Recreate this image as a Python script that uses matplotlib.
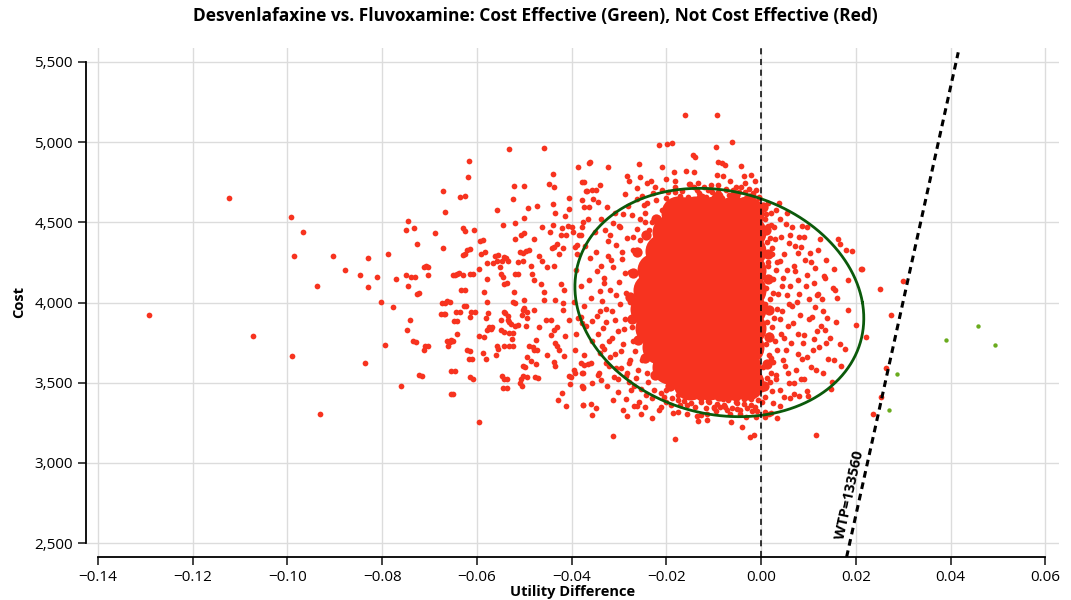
import matplotlib
matplotlib.use("Agg")
import matplotlib.pyplot as plt
import numpy as np
from matplotlib.ticker import FuncFormatter

plt.rcParams['font.family'] = ['Open Sans', 'DejaVu Sans']

# --- data (utility difference, cost) ---
far_left = [
    (-0.1292, 3922), (-0.1123, 4650), (-0.1072, 3791), (-0.0992, 4531), (-0.0990, 3668),
    (-0.0986, 4288), (-0.0967, 4442), (-0.0937, 4103), (-0.0930, 3303), (-0.0904, 4292),
    (-0.0879, 4203), (-0.0846, 4171), (-0.0837, 3625), (-0.0830, 4095), (-0.0829, 4279),
    (-0.0811, 4159), (-0.0803, 4005), (-0.0793, 3733), (-0.0787, 4302), (-0.0776, 3970),
    (-0.0770, 4148), (-0.0759, 3477), (-0.0749, 4170), (-0.0749, 4454), (-0.0748, 3830),
    (-0.0745, 4103), (-0.0745, 4510), (-0.0741, 3889), (-0.0738, 4158), (-0.0735, 3757),
    (-0.0732, 4463), (-0.0731, 4161), (-0.0729, 3752), (-0.0727, 4365), (-0.0726, 4056),
    (-0.0722, 3545), (-0.0721, 4057), (-0.0716, 3544), (-0.0711, 3706), (-0.0711, 4220),
    (-0.0709, 3726), (-0.0708, 4230), (-0.0704, 4171), (-0.0703, 3727), (-0.0702, 4223),
    (-0.0689, 4432),
]

mid_left = [
    (-0.0676, 3928), (-0.0674, 3998), (-0.0672, 4340), (-0.0671, 4697), (-0.0669, 3928),
    (-0.0668, 3926), (-0.0667, 4564), (-0.0667, 3995), (-0.0663, 3757), (-0.0663, 4008),
    (-0.0660, 3726), (-0.0657, 4005), (-0.0657, 3756), (-0.0655, 3574), (-0.0655, 3430),
    (-0.0655, 3767), (-0.0651, 3762), (-0.0651, 3427), (-0.0651, 4169), (-0.0649, 3887),
    (-0.0647, 4171), (-0.0647, 3575), (-0.0644, 3942), (-0.0642, 3885), (-0.0642, 3802),
    (-0.0641, 4179), (-0.0638, 4186), (-0.0636, 3943), (-0.0635, 4656), (-0.0634, 4076),
    (-0.0630, 4298), (-0.0630, 4171), (-0.0629, 4467), (-0.0628, 3977), (-0.0624, 4664),
    (-0.0624, 4446), (-0.0624, 4304), (-0.0624, 4080), (-0.0622, 3978), (-0.0621, 4327),
    (-0.0621, 3706), (-0.0619, 4783), (-0.0617, 4883), (-0.0616, 3648), (-0.0615, 4336),
    (-0.0614, 3908), (-0.0614, 3699), (-0.0614, 4179), (-0.0614, 3535), (-0.0613, 3942),
    (-0.0610, 3646), (-0.0608, 4176), (-0.0607, 3525), (-0.0605, 4452), (-0.0603, 3939),
    (-0.0596, 3256), (-0.0595, 4207), (-0.0595, 3788), (-0.0593, 4381), (-0.0591, 4302),
    (-0.0586, 4388), (-0.0586, 3685), (-0.0585, 3787), (-0.0585, 4066), (-0.0583, 4313),
    (-0.0581, 3650), (-0.0580, 3901), (-0.0579, 4145), (-0.0579, 4004), (-0.0578, 4245),
    (-0.0578, 3829), (-0.0577, 3933), (-0.0574, 3850), (-0.0571, 3833), (-0.0567, 3849),
    (-0.0565, 4245), (-0.0562, 4292), (-0.0560, 3673), (-0.0558, 4575), (-0.0558, 4261),
    (-0.0558, 3729), (-0.0556, 4294), (-0.0556, 3712), (-0.0551, 4220), (-0.0549, 4179),
    (-0.0549, 3829), (-0.0548, 3891), (-0.0547, 3541), (-0.0546, 4261), (-0.0545, 3467),
    (-0.0544, 4483), (-0.0544, 4158), (-0.0542, 4282), (-0.0542, 4117), (-0.0542, 3942),
    (-0.0542, 3818), (-0.0542, 3726), (-0.0542, 3525), (-0.0540, 3933), (-0.0539, 4276),
    (-0.0537, 3465), (-0.0536, 4120), (-0.0536, 3523), (-0.0535, 4261), (-0.0535, 3891),
    (-0.0535, 3916), (-0.0532, 4959), (-0.0532, 3880), (-0.0532, 3809), (-0.0532, 3730),
    (-0.0528, 3868), (-0.0525, 3770), (-0.0524, 4644), (-0.0524, 3808), (-0.0523, 3729),
    (-0.0523, 4004), (-0.0522, 4729), (-0.0521, 4066), (-0.0520, 4396), (-0.0520, 3999),
    (-0.0520, 4179), (-0.0520, 3854), (-0.0519, 4496), (-0.0514, 4178), (-0.0514, 3858),
    (-0.0514, 4251), (-0.0509, 4313), (-0.0509, 3500), (-0.0507, 4419), (-0.0507, 3520),
    (-0.0504, 3920), (-0.0504, 3481), (-0.0503, 4311), (-0.0502, 4261), (-0.0502, 3953),
    (-0.0502, 3603), (-0.0502, 3541), (-0.0501, 4727), (-0.0501, 4529), (-0.0501, 3964),
    (-0.0500, 4435), (-0.0500, 4014), (-0.0499, 3600), (-0.0497, 4323), (-0.0497, 3854),
    (-0.0495, 3941), (-0.0495, 3658), (-0.0493, 3901), (-0.0493, 3533), (-0.0491, 4589),
    (-0.0490, 3726), (-0.0489, 4327), (-0.0486, 4230), (-0.0486, 3637), (-0.0483, 4179),
    (-0.0482, 3724), (-0.0480, 4398), (-0.0479, 4138), (-0.0479, 3953), (-0.0479, 3706),
    (-0.0478, 3536), (-0.0476, 3767), (-0.0475, 3616), (-0.0473, 4602), (-0.0473, 3704),
    (-0.0471, 3529), (-0.0469, 4292), (-0.0469, 3846), (-0.0465, 4117), (-0.0462, 4261),
    (-0.0462, 4471), (-0.0459, 4962), (-0.0458, 4066), (-0.0458, 4014), (-0.0453, 3891),
    (-0.0451, 4220), (-0.0451, 3675), (-0.0448, 4737), (-0.0445, 4442), (-0.0444, 3891),
    (-0.0444, 3798), (-0.0441, 4342), (-0.0440, 4800), (-0.0440, 4483), (-0.0439, 4612),
    (-0.0438, 4719), (-0.0437, 4344), (-0.0437, 4230), (-0.0437, 3829), (-0.0437, 3628),
    (-0.0435, 4560), (-0.0434, 4014), (-0.0434, 3747), (-0.0434, 3607), (-0.0431, 4365),
    (-0.0430, 3850), (-0.0430, 3726), (-0.0429, 3395), (-0.0427, 4302), (-0.0427, 3706),
    (-0.0423, 4421), (-0.0423, 4117), (-0.0420, 4463), (-0.0420, 3438), (-0.0419, 4342),
    (-0.0419, 3953), (-0.0417, 3994), (-0.0416, 4076), (-0.0416, 3665), (-0.0414, 4541),
    (-0.0413, 3792), (-0.0412, 4421), (-0.0411, 3352), (-0.0408, 4477), (-0.0405, 4650),
    (-0.0405, 4583), (-0.0405, 3891), (-0.0405, 3541), (-0.0403, 3491), (-0.0401, 3537),
    (-0.0400, 4473), (-0.0397, 4438), (-0.0395, 3582), (-0.0392, 3562), (-0.0392, 4344),
    (-0.0389, 4359), (-0.0387, 4847), (-0.0381, 3912), (-0.0381, 3623), (-0.0380, 4421),
    (-0.0378, 3870), (-0.0378, 3479), (-0.0377, 4469), (-0.0376, 3362), (-0.0375, 4502),
    (-0.0375, 3562), (-0.0375, 3469), (-0.0374, 4596), (-0.0374, 3675), (-0.0373, 4750),
    (-0.0369, 4697), (-0.0366, 4521), (-0.0361, 4878),
]

top_edge = [
    (-0.0160, 5170), (-0.0093, 5170), (-0.0215, 4983), (-0.0198, 4988), (-0.0187, 4996),
    (-0.0096, 4969), (-0.0061, 4998), (-0.0144, 4917), (-0.0140, 4905), (-0.0090, 4878),
    (-0.0082, 4867), (-0.0076, 4855), (-0.0363, 4871), (-0.0324, 4846), (-0.0257, 4861),
    (-0.0210, 4842), (-0.0183, 4815), (-0.0159, 4817), (-0.0142, 4815), (-0.0094, 4797),
    (-0.0080, 4788), (-0.0043, 4851), (-0.0036, 4788), (-0.0022, 4797), (-0.0013, 4759),
    (-0.0377, 4751), (-0.0341, 4734), (-0.0283, 4788), (-0.0279, 4755), (-0.0255, 4780),
    (-0.0241, 4743), (-0.0233, 4755), (-0.0200, 4768), (-0.0182, 4757), (-0.0367, 4697),
    (-0.0356, 4701), (-0.0349, 4701), (-0.0354, 4643), (-0.0345, 4627), (-0.0379, 4639),
    (-0.0288, 4676), (-0.0262, 4712), (-0.0224, 4722), (-0.0153, 4739), (-0.0133, 4743),
    (-0.0105, 4735), (-0.0066, 4760), (-0.0033, 4743), (-0.0005, 4649), (-0.0325, 4593),
    (-0.0363, 4597),
]

bottom_edge = [
    (-0.0313, 3170), (-0.0182, 3147), (-0.0024, 3164), (-0.0014, 3176), (-0.0375, 3361),
    (-0.0360, 3367), (-0.0349, 3340), (-0.0356, 3299), (-0.0312, 3392), (-0.0292, 3330),
    (-0.0282, 3293), (-0.0268, 3357), (-0.0261, 3357), (-0.0253, 3305), (-0.0231, 3278),
    (-0.0212, 3351), (-0.0175, 3315), (-0.0157, 3361), (-0.0136, 3293), (-0.0134, 3263),
    (-0.0115, 3305), (-0.0114, 3268), (-0.0100, 3340), (-0.0064, 3257), (-0.0040, 3226),
    (-0.0032, 3288), (-0.0011, 3288), (0.0009, 3284), (0.0034, 3278), (-0.0375, 3471),
    (-0.0356, 3496), (-0.0338, 3517), (-0.0345, 3545), (-0.0311, 3533), (-0.0379, 3558),
    (-0.0374, 3610), (-0.0360, 3620), (-0.0274, 3454), (-0.0243, 3423), (-0.0211, 3434),
    (-0.0200, 3454), (-0.0189, 3402), (-0.0175, 3392), (-0.0154, 3444), (-0.0126, 3382),
    (-0.0100, 3351), (-0.0079, 3361), (-0.0050, 3371), (-0.0021, 3361), (0.0009, 3320),
    (0.0022, 3310), (0.0116, 3175),
]

right_side = [
    (0.0300, 4134), (0.0275, 3924), (0.0264, 3591), (0.0254, 3412), (0.0236, 3306),
    (0.0221, 3786), (0.0200, 3857), (0.0183, 3953), (0.0252, 4086), (0.0214, 4211),
    (0.0086, 4477), (0.0097, 4473), (0.0081, 4406), (0.0091, 4410), (0.0125, 4394),
    (0.0162, 4396), (0.0167, 4365), (0.0179, 4327), (0.0193, 4323), (0.0211, 4208),
    (0.0183, 4140), (0.0160, 4029), (0.0154, 4206), (0.0137, 4267), (0.0121, 4325),
    (0.0104, 4306), (0.0078, 4310), (0.0058, 4370), (0.0069, 4225), (0.0114, 4215),
    (0.0132, 4163), (0.0151, 4090), (0.0120, 4050), (0.0128, 4020), (0.0113, 3969),
    (0.0139, 3906), (0.0136, 3827), (0.0090, 3800), (0.0107, 3910), (0.0167, 3744),
    (0.0178, 3713), (0.0137, 3747), (0.0111, 3770), (0.0122, 3720), (0.0155, 3640),
    (0.0105, 3600), (0.0130, 3560), (0.0085, 3520), (0.0148, 3460), (0.0070, 3430),
    (0.0100, 3420),
]

# medium-density points inside the ellipse around the solid core
ring = [
    (-0.0385, 4418), (-0.0371, 4352), (-0.0362, 4277), (-0.0351, 4441), (-0.0346, 4198),
    (-0.0337, 4523), (-0.0331, 4119), (-0.0323, 4384), (-0.0317, 4262), (-0.0309, 4557),
    (-0.0306, 4048), (-0.0297, 4472), (-0.0293, 4318), (-0.0287, 4183), (-0.0281, 4604),
    (-0.0277, 4002), (-0.0271, 4409), (-0.0266, 3897), (-0.0381, 4103), (-0.0374, 3978),
    (-0.0369, 3852), (-0.0359, 4031), (-0.0356, 3762), (-0.0347, 3918), (-0.0341, 3683),
    (-0.0334, 3842), (-0.0328, 3961), (-0.0321, 3601), (-0.0314, 3779), (-0.0309, 3893),
    (-0.0302, 3522), (-0.0296, 3698), (-0.0289, 3832), (-0.0283, 3561), (-0.0277, 3642),
    (-0.0271, 3758), (-0.0391, 4203), (-0.0387, 3902), (-0.0393, 3702), (-0.0366, 3618),
    (-0.0343, 3562), (-0.0326, 3478), (-0.0301, 3441), (-0.0286, 3398), (-0.0268, 3482),
    (-0.0262, 4648), (-0.0251, 4661), (-0.0241, 4618), (-0.0229, 4683), (-0.0221, 4637),
    (-0.0209, 4702), (-0.0196, 4688), (-0.0181, 4719), (-0.0166, 4697), (-0.0151, 4738),
    (-0.0136, 4701), (-0.0121, 4722), (-0.0104, 4688), (-0.0091, 4731), (-0.0074, 4702),
    (-0.0061, 4663), (-0.0046, 4688), (-0.0031, 4652), (-0.0016, 4681), (-0.0256, 4522),
    (-0.0246, 4561), (-0.0258, 3382), (-0.0244, 3348), (-0.0231, 3402), (-0.0216, 3331),
    (-0.0201, 3379), (-0.0186, 3312), (-0.0171, 3361), (-0.0156, 3302), (-0.0139, 3348),
    (-0.0126, 3301), (-0.0111, 3383), (-0.0096, 3322), (-0.0081, 3398), (-0.0066, 3302),
    (-0.0051, 3338), (-0.0036, 3401), (-0.0019, 3322), (0.0001, 3382), (0.0016, 3302),
    (0.0011, 4551), (0.0021, 4482), (0.0029, 4398), (0.0041, 4522), (0.0049, 4302),
    (0.0061, 4418), (0.0014, 4252), (0.0026, 4148), (0.0036, 4052), (0.0044, 3948),
    (0.0056, 3852), (0.0064, 3748), (0.0021, 3652), (0.0031, 3548), (0.0039, 3452),
    (0.0051, 3602), (0.0059, 3498), (0.0071, 4198), (0.0076, 4002), (0.0079, 3802),
    (0.0086, 3648), (0.0091, 3522), (0.0094, 4102), (0.0101, 3898), (0.0106, 4252),
    (0.0109, 3702), (0.0116, 3578), (0.0119, 4048), (0.0126, 3852), (0.0131, 3948),
    (0.0134, 4152), (0.0141, 3648), (0.0146, 3778), (0.0149, 3502), (0.0156, 4078),
    (0.0159, 3878), (0.0169, 3602), (0.0011, 3952), (0.0016, 3798), (0.0024, 4302),
    (0.0034, 3702), (0.0046, 4152), (0.0054, 4048), (0.0066, 3978), (0.0074, 3582),
    (0.0084, 4348), (0.0096, 3448), (0.0041, 3352), (0.0061, 3402), (0.0081, 3418),
    (0.0019, 4402), (0.0033, 4252), (0.0043, 3802), (0.0027, 3902), (0.0052, 3702),
    (0.0018, 3502), (0.0062, 4102), (0.0068, 3872),
    (-0.0364, 4142), (-0.0357, 3884), (-0.0349, 4318), (-0.0344, 3806), (-0.0339, 4069),
    (-0.0336, 3731), (-0.0329, 4451), (-0.0318, 3661), (-0.0313, 4498), (-0.0296, 3592),
    (-0.0292, 4553), (-0.0279, 3502), (-0.0272, 4546), (-0.0264, 3531), (-0.0254, 3462),
    (-0.0248, 4609), (-0.0238, 3503), (-0.0226, 3452), (-0.0205, 3412), (-0.0191, 3358),
    (-0.0176, 3421), (-0.0163, 3386), (-0.0147, 3372), (-0.0131, 3411), (-0.0117, 3345),
    (-0.0087, 3349), (-0.0072, 3328), (-0.0044, 3307), (-0.0008, 3322), (0.0026, 3372),
    (0.0048, 3411), (0.0069, 3496), (0.0078, 3676), (0.0088, 3747), (0.0083, 3923),
    (0.0081, 4052), (0.0077, 4142), (0.0092, 4262), (0.0071, 4352), (0.0066, 4472),
    (0.0031, 4578), (0.0054, 4556), (-0.0201, 4651), (-0.0171, 4661), (-0.0113, 4702),
    (-0.0053, 4722), (0.0014, 4621), (-0.0390, 3801), (-0.0395, 4005), (-0.0389, 4301),
    (0.0098, 3663), (0.0102, 4021), (0.0098, 4172), (0.0118, 3821), (0.0112, 4119),
]

# tightly packed points hugging the solid centre
halo = [
    (-0.0335, 4010), (-0.0331, 4150), (-0.0328, 3880), (-0.0324, 4290), (-0.0321, 3760),
    (-0.0318, 4080), (-0.0315, 3950), (-0.0312, 4220), (-0.0309, 3680), (-0.0306, 4360),
    (-0.0303, 3820), (-0.0300, 4130), (-0.0297, 3990), (-0.0294, 4270), (-0.0291, 3740),
    (-0.0288, 3900), (-0.0285, 4060), (-0.0282, 4400), (-0.0279, 3620), (-0.0276, 4190),
    (-0.0273, 3850), (-0.0270, 4330), (-0.0266, 3700), (-0.0262, 4460), (-0.0259, 3580),
    (-0.0255, 4390), (-0.0251, 3640), (-0.0246, 4500), (-0.0241, 3560), (-0.0236, 4450),
    (-0.0332, 3710), (-0.0337, 4230), (-0.0319, 4420), (-0.0307, 3590), (-0.0299, 4480),
    (-0.0286, 3540), (-0.0327, 3620), (-0.0341, 3950),
    (-0.0218, 4530), (-0.0209, 4575), (-0.0201, 4540), (-0.0193, 4610), (-0.0186, 4560),
    (-0.0177, 4640), (-0.0169, 4590), (-0.0161, 4550), (-0.0154, 4660), (-0.0146, 4610),
    (-0.0139, 4570), (-0.0131, 4680), (-0.0124, 4630), (-0.0116, 4655), (-0.0108, 4700),
    (-0.0099, 4660), (-0.0091, 4690), (-0.0083, 4650), (-0.0075, 4710), (-0.0067, 4670),
    (-0.0059, 4700), (-0.0050, 4680), (-0.0042, 4720), (-0.0034, 4690), (-0.0026, 4710),
    (-0.0018, 4670), (-0.0011, 4700), (-0.0004, 4660), (-0.0230, 4500), (-0.0182, 4690),
    (-0.0142, 4720),
    (-0.0212, 3600), (-0.0203, 3540), (-0.0194, 3500), (-0.0186, 3560), (-0.0177, 3470),
    (-0.0168, 3520), (-0.0160, 3440), (-0.0151, 3490), (-0.0143, 3420), (-0.0134, 3460),
    (-0.0126, 3400), (-0.0118, 3440), (-0.0109, 3380), (-0.0101, 3420), (-0.0093, 3370),
    (-0.0085, 3410), (-0.0077, 3350), (-0.0069, 3390), (-0.0061, 3340), (-0.0053, 3380),
    (-0.0045, 3330), (-0.0037, 3370), (-0.0029, 3340), (-0.0021, 3400), (-0.0013, 3350),
    (-0.0006, 3390), (-0.0225, 3660), (-0.0237, 3720),
    (0.0004, 4600), (0.0009, 4520), (0.0003, 4440), (0.0012, 4380), (0.0006, 4300),
    (0.0015, 4230), (0.0004, 4160), (0.0011, 4090), (0.0018, 4020), (0.0006, 3950),
    (0.0013, 3880), (0.0003, 3810), (0.0010, 3740), (0.0017, 3670), (0.0005, 3600),
    (0.0012, 3530), (0.0003, 3460), (0.0009, 3410), (0.0022, 4560), (0.0027, 4470),
    (0.0024, 4340), (0.0031, 4200), (0.0026, 4060), (0.0033, 3960), (0.0024, 3850),
    (0.0030, 3760), (0.0025, 3630), (0.0032, 3520), (0.0023, 3450), (0.0038, 4620),
    (0.0042, 4410), (0.0040, 4260), (0.0045, 4100), (0.0039, 3900), (0.0046, 3640),
    (0.0048, 3780), (0.0052, 4490), (0.0055, 4200), (0.0058, 3990), (0.0057, 3560),
    (0.0015, 4480), (0.0019, 3780), (0.0008, 3990), (0.0020, 3560),
]

# edge of the solid centre, drawn with medium markers
core_edge = [
    (-0.0276, 4035), (-0.0271, 4182), (-0.0273, 3897), (-0.0262, 4312), (-0.0259, 3768),
    (-0.0243, 4423), (-0.0246, 3652), (-0.0221, 4518), (-0.0224, 3548), (-0.0196, 4592),
    (-0.0193, 3478), (-0.0161, 4628), (-0.0158, 3446), (-0.0126, 4652), (-0.0124, 3428),
    (-0.0091, 4663), (-0.0088, 3418), (-0.0056, 4668), (-0.0053, 3417), (-0.0024, 4652),
    (-0.0022, 3428), (0.0004, 4596), (0.0006, 3482), (0.0011, 4452), (0.0013, 3618),
    (0.0014, 4302), (0.0016, 3782), (0.0015, 4148), (0.0017, 3951),
]

# solid centre of the cloud, drawn with big overlapping markers
core = [
    (-0.0175, 4560), (-0.0140, 4560), (-0.0100, 4560), (-0.0060, 4560), (-0.0030, 4560),
    (-0.0195, 4440), (-0.0160, 4440), (-0.0120, 4440), (-0.0080, 4440), (-0.0040, 4440), (-0.0025, 4440),
    (-0.0210, 4320), (-0.0150, 4320), (-0.0105, 4320), (-0.0060, 4320), (-0.0025, 4320),
    (-0.0225, 4200), (-0.0175, 4200), (-0.0130, 4200), (-0.0085, 4200), (-0.0040, 4200), (-0.0025, 4200),
    (-0.0235, 4080), (-0.0190, 4080), (-0.0145, 4080), (-0.0100, 4080), (-0.0055, 4080), (-0.0025, 4080),
    (-0.0240, 3960), (-0.0195, 3960), (-0.0150, 3960), (-0.0105, 3960), (-0.0060, 3960), (-0.0025, 3960),
    (-0.0230, 3840), (-0.0185, 3840), (-0.0140, 3840), (-0.0095, 3840), (-0.0050, 3840), (-0.0025, 3840),
    (-0.0215, 3720), (-0.0160, 3720), (-0.0115, 3720), (-0.0070, 3720), (-0.0030, 3720),
    (-0.0195, 3600), (-0.0165, 3600), (-0.0120, 3600), (-0.0075, 3600), (-0.0035, 3600),
    (-0.0150, 3500), (-0.0110, 3500), (-0.0065, 3500), (-0.0030, 3500),
]

cost_effective = [(0.0270, 3329), (0.0286, 3554), (0.0391, 3764), (0.0457, 3855), (0.0493, 3737)]

wtp = 133560
ellipse_center = (-0.0088, 4000)
ellipse_u_radius = 0.0302
ellipse_u_skew = -0.0042
ellipse_cost_radius = 712

RED = '#f7331f'
GREEN_PT = '#6aab1e'
ELLIPSE_COLOR = '#0b5a0b'

fig = plt.figure(figsize=(10.71, 6.0), dpi=100)
ax = fig.add_axes([86 / 1071, 43 / 600, 973 / 1071, 509 / 600])

red_pts = np.array(far_left + mid_left + top_edge + bottom_edge + right_side + ring + halo)
edge_pts = np.array(core_edge)
core_pts = np.array(core)
green_pts = np.array(cost_effective)

ax.scatter(core_pts[:, 0], core_pts[:, 1], s=600, color=RED, linewidths=0, zorder=2)
ax.scatter(edge_pts[:, 0], edge_pts[:, 1], s=55, color=RED, linewidths=0, zorder=2)
ax.scatter(red_pts[:, 0], red_pts[:, 1], s=17, color=RED, linewidths=0, zorder=2)
ax.scatter(green_pts[:, 0], green_pts[:, 1], s=10, color=GREEN_PT, linewidths=0, zorder=2)

# confidence ellipse
t = np.linspace(0, 2 * np.pi, 300)
ex = ellipse_center[0] + ellipse_u_radius * np.cos(t) + ellipse_u_skew * np.sin(t)
ey = ellipse_center[1] + ellipse_cost_radius * np.sin(t)
ax.plot(ex, ey, color=ELLIPSE_COLOR, lw=2.0, zorder=3)

# reference lines
ax.axvline(0, color='black', lw=1.1, ls=(0, (4, 3)), zorder=3)
wtp_cost = np.array([2413, 5560])
ax.plot(wtp_cost / wtp, wtp_cost, color='black', lw=2.2, ls=(0, (2.2, 1.6)), zorder=3)
ax.text(2799 / wtp - 0.0022, 2799, "WTP=133560", rotation=77.7, rotation_mode='anchor',
        ha='center', va='center', fontsize=10.5, fontweight='bold', zorder=4)

ax.set_xlim(-0.1425, 0.0629)
ax.set_ylim(2413, 5587)
ax.set_xticks([-0.14, -0.12, -0.10, -0.08, -0.06, -0.04, -0.02, 0.00, 0.02, 0.04, 0.06])
ax.set_yticks([2500, 3000, 3500, 4000, 4500, 5000, 5500])
ax.xaxis.set_major_formatter(FuncFormatter(lambda v, p: f"{v:.2f}".replace('-', '\u2212')))
ax.yaxis.set_major_formatter(FuncFormatter(lambda v, p: f"{v:,.0f}"))
ax.grid(True, color='#dcdcdc', lw=1.0, zorder=0)
ax.set_axisbelow(True)

for side in ['top', 'right']:
    ax.spines[side].set_visible(False)
ax.spines['left'].set_bounds(2500, 5500)
ax.spines['bottom'].set_bounds(-0.14, 0.06)
ax.spines['left'].set_linewidth(1.3)
ax.spines['bottom'].set_linewidth(1.3)
ax.tick_params(axis='both', length=6, width=1.2, labelsize=11, color='#222222')

ax.set_xlabel("Utility Difference", fontsize=10.5, fontweight='bold', labelpad=0)
ax.set_ylabel("Cost", fontsize=10.5, fontweight='bold', labelpad=6)
fig.suptitle("Desvenlafaxine vs. Fluvoxamine: Cost Effective (Green), Not Cost Effective (Red)",
             fontsize=12.5, fontweight='bold', y=0.988)

fig.savefig("out.png", dpi=100)
